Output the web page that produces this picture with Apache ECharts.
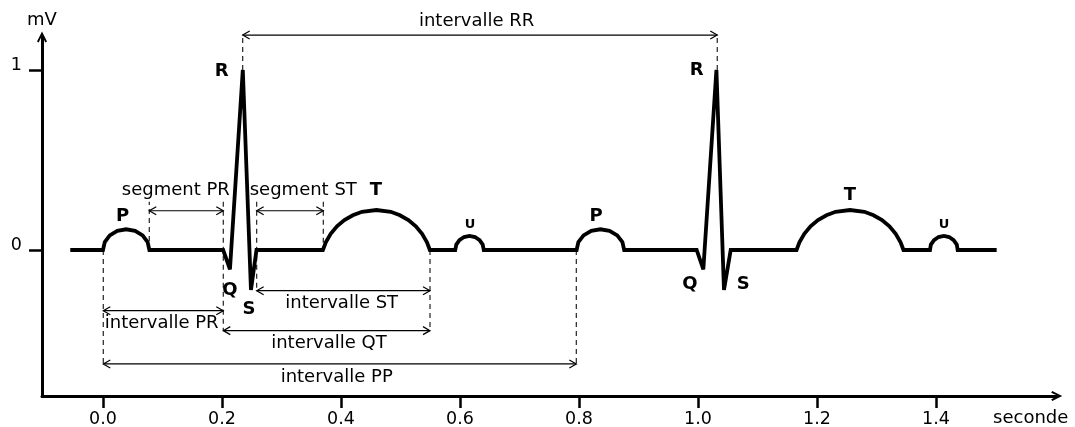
<!DOCTYPE html>
<html><head><meta charset="utf-8">
<script src="https://cdn.jsdelivr.net/npm/echarts@6/dist/echarts.min.js"></script>
<style>html,body{margin:0;padding:0;background:#fff}#c{width:1075px;height:427px}</style>
</head><body><div id="c"></div>
<script>
// ---- data (seconds, mV) ----
const xTicks = [0, 0.2, 0.4, 0.6, 0.8, 1.0, 1.2, 1.4];
const yTicks = [0, 1];
const xAxisTitle = 'seconde';
const yAxisTitle = 'mV';

// ECG trace: [time (s), voltage (mV)]
const ecgTrace = [
  [-0.055, 0], [0, 0],
  [0.003, 0.044], [0.0114, 0.081], [0.0241, 0.106], [0.039, 0.115], [0.0539, 0.106], [0.0666, 0.081], [0.075, 0.044], [0.078, 0],
  [0.202, 0], [0.2134, -0.107], [0.235, 1.0], [0.2487, -0.222], [0.258, 0],
  [0.3696, 0], [0.3745, 0.043], [0.3827, 0.090], [0.3932, 0.132], [0.4057, 0.166], [0.4199, 0.193], [0.4353, 0.212], [0.4595, 0.222],
  [0.4837, 0.212], [0.4991, 0.193], [0.5133, 0.166], [0.5258, 0.132], [0.5363, 0.090], [0.5445, 0.043], [0.5494, 0],
  [0.592, 0], [0.5938, 0.030], [0.599, 0.055], [0.6068, 0.072], [0.616, 0.078], [0.6252, 0.072], [0.633, 0.055], [0.6382, 0.030], [0.640, 0],
  [0.796, 0], [0.799, 0.044], [0.8077, 0.081], [0.8207, 0.106], [0.836, 0.115], [0.8513, 0.106], [0.8643, 0.081], [0.873, 0.044], [0.876, 0],
  [0.9978, 0], [1.009, -0.107], [1.031, 1.0], [1.0437, -0.222], [1.055, 0],
  [1.1656, 0], [1.1705, 0.043], [1.1787, 0.090], [1.1892, 0.132], [1.2017, 0.166], [1.2159, 0.193], [1.2313, 0.212], [1.2555, 0.222],
  [1.2797, 0.212], [1.2951, 0.193], [1.3093, 0.166], [1.3218, 0.132], [1.3323, 0.090], [1.3405, 0.043], [1.3454, 0],
  [1.3899, 0], [1.3914, 0.030], [1.3967, 0.055], [1.4043, 0.072], [1.4132, 0.078], [1.4221, 0.072], [1.4297, 0.055], [1.435, 0.030], [1.4365, 0],
  [1.502, 0]
];

// dimension arrows: [label, from (s), to (s), level (mV), label time, label level]
const dimArrows = [
  ['intervalle RR', 0.2348, 1.0324, 1.194, 0.628, 1.268],
  ['segment PR', 0.0778, 0.2022, 0.218, 0.1224, 0.329],
  ['segment ST', 0.2583, 0.3703, 0.218, 0.3366, 0.329],
  ['intervalle ST', 0.2583, 0.5496, -0.226, 0.4012, -0.296],
  ['intervalle PR', 0.0005, 0.2022, -0.337, 0.0987, -0.407],
  ['intervalle QT', 0.2022, 0.5496, -0.448, 0.3798, -0.518],
  ['intervalle PP', 0.0005, 0.7955, -0.633, 0.3928, -0.707]
];

// dashed guide lines: [time (s), from level, to level]
const guideLines = [
  [0.2348, 1.0, 1.194], [1.0324, 1.0, 1.194],
  [0.0005, 0, -0.633],
  [0.0778, 0, 0.268],
  [0.2022, 0.268, -0.448],
  [0.2583, 0.268, -0.226],
  [0.3703, 0.268, 0],
  [0.5496, 0, -0.448],
  [0.7955, 0, -0.633]
];

// wave letters: [text, time, level, small?]
const waveLabels = [
  ['P', 0.0331, 0.185, 0], ['P', 0.8286, 0.185, 0],
  ['R', 0.1995, 0.991, 0], ['R', 0.9978, 0.996, 0],
  ['Q', 0.2134, -0.222, 0], ['S', 0.2454, -0.330, 0],
  ['Q', 0.9866, -0.189, 0], ['S', 1.0761, -0.189, 0],
  ['T', 0.4588, 0.329, 0], ['T', 1.2555, 0.306, 0],
  ['U', 0.6168, 0.139, 1], ['U', 1.4134, 0.139, 1]
];

// ---- chart ----
const FONT = '"DejaVu Sans", "Noto Sans", sans-serif';
const chevron = 'path://M5,0 L10,10 L8.3,11 L5,4 L1.7,11 L0,10 Z';
const chart = echarts.init(document.getElementById('c'), null, { renderer: 'canvas' });

function renderDim(params, api) {
  const d = dimArrows[params.dataIndex];
  const p1 = api.coord([d[1], d[3]]);
  const p2 = api.coord([d[2], d[3]]);
  const pl = api.coord([d[4], d[5]]);
  const ah = 7, aw = 4;
  const st = { stroke: '#000', lineWidth: 1.2, fill: null };
  return {
    type: 'group',
    children: [
      { type: 'line', shape: { x1: p1[0], y1: p1[1], x2: p2[0], y2: p2[1] }, style: st },
      { type: 'polyline', shape: { points: [[p1[0] + ah, p1[1] - aw], [p1[0], p1[1]], [p1[0] + ah, p1[1] + aw]] }, style: st },
      { type: 'polyline', shape: { points: [[p2[0] - ah, p2[1] - aw], [p2[0], p2[1]], [p2[0] - ah, p2[1] + aw]] }, style: st },
      { type: 'text', x: pl[0], y: pl[1], style: { text: d[0], fontSize: 18, fontFamily: FONT, fill: '#000', align: 'center', verticalAlign: 'middle' } }
    ]
  };
}
function renderGuide(params, api) {
  const g = guideLines[params.dataIndex];
  const a = api.coord([g[0], g[1]]);
  const b = api.coord([g[0], g[2]]);
  return { type: 'line', shape: { x1: a[0], y1: a[1], x2: b[0], y2: b[1] },
    style: { stroke: '#222', lineWidth: 1.2, lineDash: [5, 4] } };
}
function renderLetter(params, api) {
  const w = waveLabels[params.dataIndex];
  const p = api.coord([w[1], w[2]]);
  return { type: 'text', x: p[0], y: p[1],
    style: { text: w[0], fontSize: w[3] ? 13 : 18, fontWeight: 'bold', fontFamily: FONT, fill: '#000', align: 'center', verticalAlign: 'middle' } };
}

chart.setOption({
  animation: false,
  backgroundColor: '#fff',
  grid: { left: 42, right: 18.3, top: 37, bottom: 31, containLabel: false, outerBoundsMode: 'none' },
  xAxis: {
    type: 'value', min: -0.1025, max: 1.6029,
    name: xAxisTitle, nameLocation: 'end', nameGap: -26, nameMoveOverlap: false,
    nameTextStyle: { fontSize: 18, fontFamily: FONT, color: '#000', align: 'center', verticalAlign: 'top', padding: [13, 0, 0, 0] },
    axisLine: { show: true, onZero: false, symbol: ['none', chevron], symbolSize: [10, 12], lineStyle: { color: '#000', width: 3 } },
    axisTick: { show: true, customValues: xTicks, length: 12, inside: false, lineStyle: { color: '#000', width: 2.5 } },
    axisLabel: { show: true, customValues: xTicks, formatter: v => v.toFixed(1), fontSize: 17.5, fontFamily: FONT, color: '#000', margin: 14 },
    splitLine: { show: false }
  },
  yAxis: {
    type: 'value', min: -0.8111, max: 1.1833,
    name: yAxisTitle, nameLocation: 'end', nameGap: 8, nameMoveOverlap: false,
    nameTextStyle: { fontSize: 18, fontFamily: FONT, color: '#000', align: 'center' },
    axisLine: { show: true, onZero: false, symbol: ['none', chevron], symbolSize: [10, 12], lineStyle: { color: '#000', width: 3 } },
    axisTick: { show: true, customValues: yTicks, length: 13, inside: false, lineStyle: { color: '#000', width: 2.5 } },
    axisLabel: { show: true, customValues: yTicks, formatter: v => String(v), fontSize: 17.5, fontFamily: FONT, color: '#000', margin: 20, verticalAlign: 'bottom', lineHeight: 10 },
    splitLine: { show: false }
  },
  series: [
    { type: 'custom', name: 'guides', renderItem: renderGuide, data: guideLines.map(g => [g[0], g[1]]), z: 1, silent: true },
    { type: 'custom', name: 'dims', renderItem: renderDim, data: dimArrows.map(d => [d[1], d[3]]), z: 2, silent: true },
    { type: 'line', name: 'ECG', data: ecgTrace, showSymbol: false, symbol: 'none', clip: false,
      lineStyle: { color: '#000', width: 3.8, join: 'miter', miterLimit: 2 }, z: 5, silent: true },
    { type: 'custom', name: 'letters', renderItem: renderLetter, data: waveLabels.map(w => [w[1], w[2]]), z: 6, silent: true }
  ]
});
</script>
</body></html>
